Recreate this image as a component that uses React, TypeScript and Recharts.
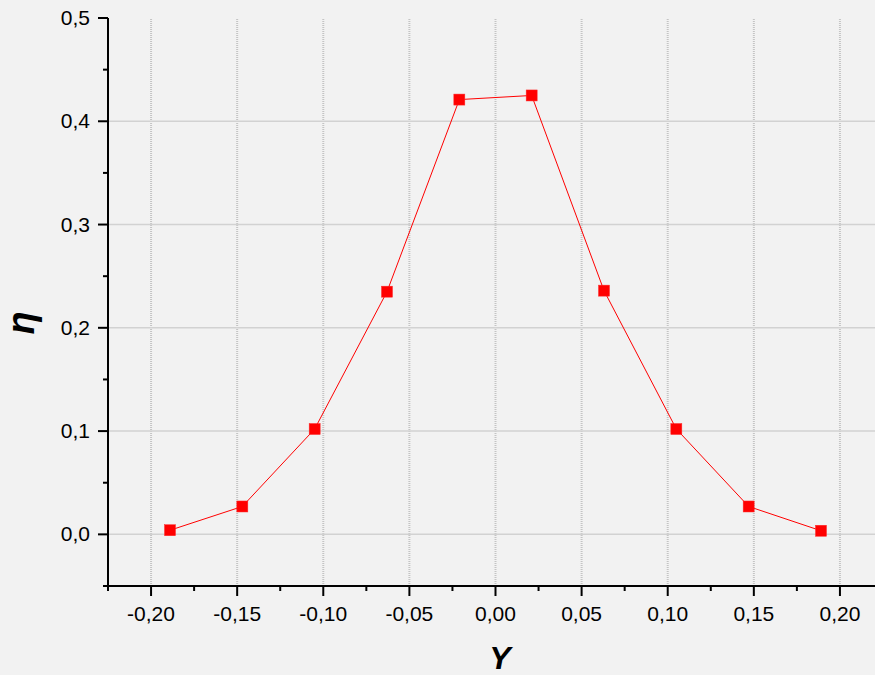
import React from 'react';
import { LineChart, Line, XAxis, YAxis, ReferenceLine, Label } from 'recharts';

const yPositions = [-0.189, -0.147, -0.105, -0.063, -0.021, 0.021, 0.063, 0.105, 0.147, 0.189];
const etaValues = [0.004, 0.027, 0.102, 0.235, 0.421, 0.425, 0.236, 0.102, 0.027, 0.0035];

const xMajorTicks = [-0.2, -0.15, -0.1, -0.05, 0, 0.05, 0.1, 0.15, 0.2];
const xAllTicks = [-0.225, -0.2, -0.175, -0.15, -0.125, -0.1, -0.075, -0.05, -0.025, 0, 0.025, 0.05, 0.075, 0.1, 0.125, 0.15, 0.175, 0.2, 0.225];
const yMajorTicks = [0, 0.1, 0.2, 0.3, 0.4, 0.5];
const yAllTicks = [-0.05, 0, 0.05, 0.1, 0.15, 0.2, 0.25, 0.3, 0.35, 0.4, 0.45, 0.5];
const yGridTicks = [0, 0.1, 0.2, 0.3, 0.4];

const xDomain: [number, number] = [-0.225, 0.225];
const yDomain: [number, number] = [-0.05, 0.5];

const data = yPositions.map((p, i) => ({ pos: p, eta: etaValues[i] }));

const FONT = '"Liberation Sans", Arial, sans-serif';
const MAJOR = 10;
const MINOR = 5;

const isMajor = (v: number, list: number[]) => list.some((m) => Math.abs(m - v) < 1e-9);
const fmt = (v: number, d: number) => (Math.abs(v) < 1e-9 ? 0 : v).toFixed(d).replace('.', ',');

const BottomTick = (props: any) => {
  const { x, y, payload } = props;
  const major = isMajor(payload.value, xMajorTicks);
  return (
    <g>
      <line x1={x} x2={x} y1={y} y2={y + (major ? MAJOR : MINOR)} stroke="#000" strokeWidth={2} />
      {major && (
        <text x={x} y={y + 35} textAnchor="middle" fontSize={21} fontFamily={FONT} fill="#000">
          {fmt(payload.value, 2)}
        </text>
      )}
    </g>
  );
};

const TopTick = (props: any) => {
  const { x, y, payload } = props;
  const major = isMajor(payload.value, xMajorTicks);
  return <line x1={x} x2={x} y1={y} y2={y + (major ? MAJOR : MINOR)} stroke="#000" strokeWidth={2} />;
};

const LeftTick = (props: any) => {
  const { x, y, payload } = props;
  const major = isMajor(payload.value, yMajorTicks);
  return (
    <g>
      <line x1={x - (major ? MAJOR : MINOR)} x2={x} y1={y} y2={y} stroke="#000" strokeWidth={2} />
      {major && (
        <text x={x - 18} y={y + 7} textAnchor="end" fontSize={21} fontFamily={FONT} fill="#000">
          {fmt(payload.value, 1)}
        </text>
      )}
    </g>
  );
};

const RightTick = (props: any) => {
  const { x, y, payload } = props;
  const major = isMajor(payload.value, yMajorTicks);
  return <line x1={x - (major ? MAJOR : MINOR)} x2={x} y1={y} y2={y} stroke="#000" strokeWidth={2} />;
};

const SquareDot = (props: any) => {
  const { cx, cy, index } = props;
  if (cx == null || cy == null) return <g key={index} />;
  return <rect key={index} x={cx - 5.5} y={cy - 5.5} width={11} height={11} fill="#ff0000" stroke="#ff2a2a" strokeWidth={0.5} />;
};

const axisLine = { stroke: '#000', strokeWidth: 2 };

export default function App() {
  return (
    <div
      style={{
        position: 'absolute',
        left: 0,
        top: 0,
        width: 875,
        height: 675,
        overflow: 'hidden',
        background: '#f2f2f2',
      }}
    >
      <LineChart width={890} height={675} data={data} margin={{ top: 18, right: 7, bottom: 0, left: 0 }}>
        <XAxis
          xAxisId="x"
          dataKey="pos"
          type="number"
          domain={xDomain}
          ticks={xAllTicks}
          interval={0}
          allowDataOverflow
          orientation="bottom"
          height={89}
          tickSize={0}
          tickMargin={0}
          tickLine={false}
          axisLine={axisLine}
          tick={<BottomTick />}
        >
          <Label
            content={() => (
              <text x={500} y={669} textAnchor="middle" fontSize={32} fontWeight="bold" fontStyle="italic" fontFamily={FONT} fill="#000">
                Y
              </text>
            )}
          />
        </XAxis>
        <XAxis
          xAxisId="xt"
          dataKey="pos"
          type="number"
          domain={xDomain}
          ticks={xAllTicks}
          interval={0}
          allowDataOverflow
          orientation="top"
          height={0}
          tickSize={0}
          tickMargin={0}
          tickLine={false}
          axisLine={axisLine}
          tick={<TopTick />}
        />
        <YAxis
          yAxisId="y"
          type="number"
          domain={yDomain}
          ticks={yAllTicks}
          interval={0}
          allowDataOverflow
          orientation="left"
          width={108}
          tickSize={0}
          tickMargin={0}
          tickLine={false}
          axisLine={axisLine}
          tick={<LeftTick />}
        >
          <Label
            content={() => (
              <text
                x={34}
                y={323}
                transform="rotate(-90, 34, 323)"
                textAnchor="middle"
                fontSize={38}
                fontWeight="bold"
                fontStyle="italic"
                fontFamily={FONT}
                fill="#000"
              >
                η
              </text>
            )}
          />
        </YAxis>
        <YAxis
          yAxisId="yr"
          type="number"
          domain={yDomain}
          ticks={yAllTicks}
          interval={0}
          allowDataOverflow
          orientation="right"
          width={0}
          tickSize={0}
          tickMargin={0}
          tickLine={false}
          axisLine={axisLine}
          tick={<RightTick />}
        />
        {xMajorTicks.map((v) => (
          <ReferenceLine
            key={`vx${v}`}
            xAxisId="x"
            yAxisId="y"
            x={v}
            stroke="#c4c4c4"
            strokeWidth={2}
            strokeDasharray="1 1"
          />
        ))}
        {yGridTicks.map((v) => (
          <ReferenceLine key={`hy${v}`} xAxisId="x" yAxisId="y" y={v} stroke="#d2d2d2" strokeWidth={1.5} />
        ))}
        <Line
          xAxisId="x"
          yAxisId="y"
          dataKey="eta"
          type="linear"
          stroke="#ff0000"
          strokeWidth={1}
          dot={<SquareDot />}
          activeDot={false}
          isAnimationActive={false}
        />
      </LineChart>
    </div>
  );
}
